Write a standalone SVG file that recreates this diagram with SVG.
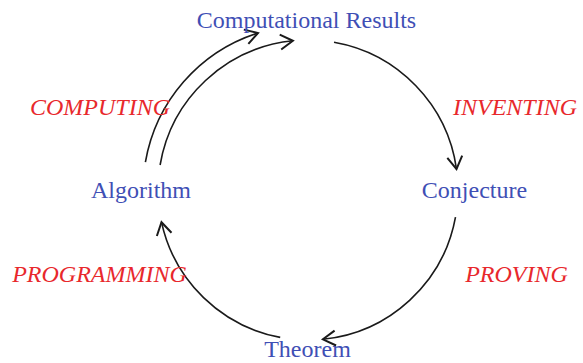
<svg xmlns="http://www.w3.org/2000/svg" width="583" height="363" viewBox="0 0 583 363">
<style>
.node{font-family:"Liberation Serif","Times New Roman",serif;font-size:24px;fill:#3f4fb5;text-anchor:middle}
.lbl{font-family:"Liberation Serif","Times New Roman",serif;font-size:24px;font-style:italic;fill:#e8282c;text-anchor:middle}
.arc{fill:none;stroke:#1a1a1a;stroke-width:1.6}
</style>
<defs>
<marker id="ah" markerUnits="userSpaceOnUse" markerWidth="20" markerHeight="20" refX="0" refY="0" viewBox="-12 -8 14 16" orient="auto">
<path d="M-10,-6 L0,0 L-10,6" fill="none" stroke="#1a1a1a" stroke-width="1.6"/>
</marker>
</defs>
<rect width="583" height="363" fill="#fff"/>
<g id="connectors">
<path class="arc" d="M334,42.3 A150,150 0 0 1 456.5,169.1" marker-end="url(#ah)"/>
<path class="arc" d="M455.5,217.1 A150,150 0 0 1 322.9,339.3" marker-end="url(#ah)"/>
<path class="arc" d="M280.2,337.4 A150,150 0 0 1 161.5,222.2" marker-end="url(#ah)"/>
<path class="arc" d="M160.1,165 A150,150 0 0 1 292.9,40.8" marker-end="url(#ah)"/>
<path class="arc" d="M145.4,162.2 A165,165 0 0 1 258,33" marker-end="url(#ah)"/>
</g>
<g id="node-results"><text class="node" x="306.5" y="28">Computational Results</text></g>
<g id="node-algorithm"><text class="node" x="141" y="198">Algorithm</text></g>
<g id="node-conjecture"><text class="node" x="474.5" y="198">Conjecture</text></g>
<g id="node-theorem"><text class="node" x="307.5" y="357">Theorem</text></g>
<g id="labels">
<text class="lbl" x="100" y="115">COMPUTING</text>
<text class="lbl" x="515" y="115">INVENTING</text>
<text class="lbl" x="99.5" y="282">PROGRAMMING</text>
<text class="lbl" x="516.5" y="282">PROVING</text>
</g>
</svg>
